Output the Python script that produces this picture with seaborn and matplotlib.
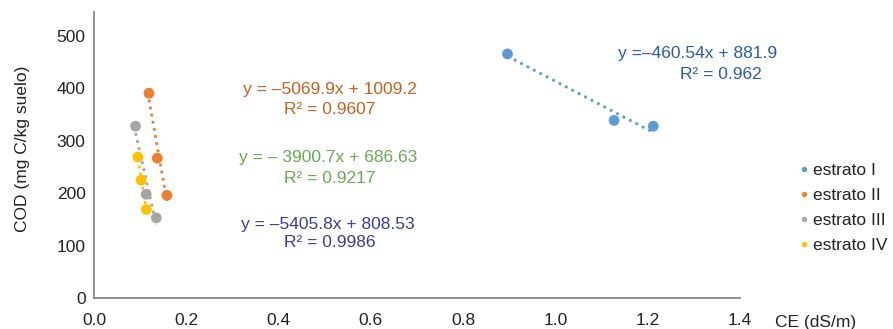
import matplotlib
matplotlib.use("Agg")
import matplotlib.pyplot as plt
import seaborn as sns
import pandas as pd

# Data
strata = ["estrato I", "estrato II", "estrato III", "estrato IV"]
ce_I = [0.896, 1.127, 1.212]
cod_I = [466, 339, 328]
ce_II = [0.119, 0.137, 0.158]
cod_II = [391, 267, 196]
ce_III = [0.090, 0.113, 0.135]
cod_III = [328, 198, 153]
ce_IV = [0.095, 0.102, 0.1135]
cod_IV = [269, 225, 169]

equations = ["y =\u2013460.54x + 881.9", "y = \u20135069.9x + 1009.2",
             "y = \u2013 3900.7x + 686.63", "y = \u20135405.8x + 808.53"]
r2_labels = ["R\u00b2 = 0.962", "R\u00b2 = 0.9607", "R\u00b2 = 0.9217", "R\u00b2 = 0.9986"]

colors = ["#5B9BD5", "#ED7D31", "#A5A5A5", "#FFC000"]
eq_colors = ["#2A5CA8", "#C8601E", "#6AA84F", "#3C3A99"]

df = pd.DataFrame({
    "CE": ce_I + ce_II + ce_III + ce_IV,
    "COD": cod_I + cod_II + cod_III + cod_IV,
    "estrato": [strata[0]] * len(ce_I) + [strata[1]] * len(ce_II)
               + [strata[2]] * len(ce_III) + [strata[3]] * len(ce_IV),
})

sns.set_theme(style="white")
plt.rcParams["font.family"] = ["Liberation Sans", "DejaVu Sans"]

FS = 12.5
fig = plt.figure(figsize=(8.93, 3.29), dpi=100)
ax = fig.add_axes([0.1053, 0.0942, 0.7234, 0.8693])

palette = dict(zip(strata, colors))
for s in strata:
    sub = df[df["estrato"] == s]
    sns.regplot(data=sub, x="CE", y="COD", ax=ax, scatter=False, ci=None,
                color=palette[s], truncate=True,
                line_kws=dict(linestyle=(0, (1, 1.6)), linewidth=2.0))

sns.scatterplot(data=df, x="CE", y="COD", hue="estrato", palette=palette,
                s=60, edgecolor="none", ax=ax, legend=True, zorder=3)

ax.set_xlim(0, 1.4)
ax.set_ylim(0, 546)
ax.set_xticks([0.0, 0.2, 0.4, 0.6, 0.8, 1.0, 1.2, 1.4])
ax.set_xticklabels([f"{v:.1f}" for v in ax.get_xticks()])
ax.set_yticks([0, 100, 200, 300, 400, 500])
ax.tick_params(axis="both", length=0, labelsize=FS, colors="#222222")
ax.tick_params(axis="x", pad=11)
ax.tick_params(axis="y", pad=6)

for side in ["top", "right"]:
    ax.spines[side].set_visible(False)
for side in ["left", "bottom"]:
    ax.spines[side].set_color("#7f7f7f")
    ax.spines[side].set_linewidth(1.2)

ax.set_ylabel("COD (mg C/kg suelo)", fontsize=FS, color="#222222", va="center")
ax.yaxis.set_label_coords(-0.111, 0.52)
ax.set_xlabel("CE (dS/m)", fontsize=FS, color="#222222", ha="left", va="center")
ax.xaxis.set_label_coords(1.054, -0.084)

# Equation annotations (positions in data coordinates)
eq_pos = [(1.309, 466), (0.511, 399), (0.507, 268), (0.507, 141)]
r2_pos = [(1.359, 426), (0.511, 360), (0.511, 229), (0.511, 106)]
for e, r, (ex, ey), (rx, ry), c in zip(equations, r2_labels, eq_pos, r2_pos, eq_colors):
    ax.text(ex, ey, e, color=c, fontsize=FS, ha="center", va="center")
    ax.text(rx, ry, r, color=c, fontsize=FS, ha="center", va="center")

leg = ax.legend(loc="upper left", bbox_to_anchor=(1.087, 0.472), frameon=False,
                fontsize=FS, handletextpad=0.05, markerscale=0.5,
                labelspacing=0.56, borderaxespad=0, borderpad=0, handlelength=0.9)
for t in leg.get_texts():
    t.set_color("#222222")

fig.savefig("out.png", dpi=100)
